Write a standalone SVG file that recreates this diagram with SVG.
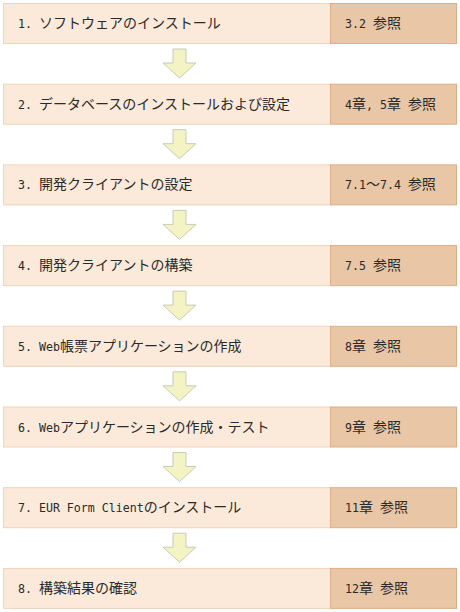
<svg xmlns="http://www.w3.org/2000/svg" width="460" height="612" viewBox="0 0 460 612">
<style>
.l{fill:#FBE9DA;stroke:#F2D3B8;stroke-width:1}
.r{fill:#E8C6A6;stroke:#DDAE88;stroke-width:1}
.t{font-family:"Noto Sans CJK JP","Liberation Sans",sans-serif;font-size:14px;fill:#2a2a2a}
.m{font-family:"DejaVu Sans Mono","Liberation Mono",monospace;font-size:11.6px}
.a{fill:#F3F3C4;stroke:#CACABA;stroke-width:1}
</style>
<defs>
<polygon id="arr" class="a" points="173,49 186,49 186,63 196,63 179.5,78 163,63 173,63"/>
</defs>
<rect width="460" height="612" fill="#fff"/>
<g id="connectors">
<use href="#arr"/>
<use href="#arr" y="80.7"/>
<use href="#arr" y="161.4"/>
<use href="#arr" y="242.1"/>
<use href="#arr" y="322.8"/>
<use href="#arr" y="403.5"/>
<use href="#arr" y="484.2"/>
</g>
<g id="n1"><rect class="l" x="3.5" y="3.5" width="327" height="40"/><rect class="r" x="330.5" y="3.5" width="126" height="40"/><text class="t" x="18" y="28"><tspan class="m">1. </tspan>ソフトウェアのインストール</text><text class="t" x="345" y="28"><tspan class="m">3.2 </tspan>参照</text></g>
<g id="n2" transform="translate(0,80.7)"><rect class="l" x="3.5" y="3.5" width="327" height="40"/><rect class="r" x="330.5" y="3.5" width="126" height="40"/><text class="t" x="18" y="28"><tspan class="m">2. </tspan>データベースのインストールおよび設定</text><text class="t" x="345" y="28"><tspan class="m">4</tspan>章<tspan class="m">, 5</tspan>章<tspan class="m"> </tspan>参照</text></g>
<g id="n3" transform="translate(0,161.4)"><rect class="l" x="3.5" y="3.5" width="327" height="40"/><rect class="r" x="330.5" y="3.5" width="126" height="40"/><text class="t" x="18" y="28"><tspan class="m">3. </tspan>開発クライアントの設定</text><text class="t" x="345" y="28"><tspan class="m">7.1</tspan>～<tspan class="m">7.4 </tspan>参照</text></g>
<g id="n4" transform="translate(0,242.1)"><rect class="l" x="3.5" y="3.5" width="327" height="40"/><rect class="r" x="330.5" y="3.5" width="126" height="40"/><text class="t" x="18" y="28"><tspan class="m">4. </tspan>開発クライアントの構築</text><text class="t" x="345" y="28"><tspan class="m">7.5 </tspan>参照</text></g>
<g id="n5" transform="translate(0,322.8)"><rect class="l" x="3.5" y="3.5" width="327" height="40"/><rect class="r" x="330.5" y="3.5" width="126" height="40"/><text class="t" x="18" y="28"><tspan class="m">5. Web</tspan>帳票アプリケーションの作成</text><text class="t" x="345" y="28"><tspan class="m">8</tspan>章<tspan class="m"> </tspan>参照</text></g>
<g id="n6" transform="translate(0,403.5)"><rect class="l" x="3.5" y="3.5" width="327" height="40"/><rect class="r" x="330.5" y="3.5" width="126" height="40"/><text class="t" x="18" y="28"><tspan class="m">6. Web</tspan>アプリケーションの作成・テスト</text><text class="t" x="345" y="28"><tspan class="m">9</tspan>章<tspan class="m"> </tspan>参照</text></g>
<g id="n7" transform="translate(0,484.2)"><rect class="l" x="3.5" y="3.5" width="327" height="40"/><rect class="r" x="330.5" y="3.5" width="126" height="40"/><text class="t" x="18" y="28"><tspan class="m">7. EUR Form Client</tspan>のインストール</text><text class="t" x="345" y="28"><tspan class="m">11</tspan>章<tspan class="m"> </tspan>参照</text></g>
<g id="n8" transform="translate(0,564.9)"><rect class="l" x="3.5" y="3.5" width="327" height="40"/><rect class="r" x="330.5" y="3.5" width="126" height="40"/><text class="t" x="18" y="28"><tspan class="m">8. </tspan>構築結果の確認</text><text class="t" x="345" y="28"><tspan class="m">12</tspan>章<tspan class="m"> </tspan>参照</text></g>
</svg>
